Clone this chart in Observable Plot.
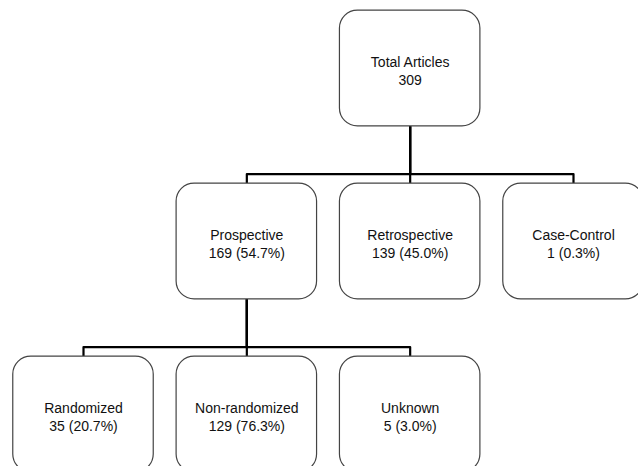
<!DOCTYPE html>
<html>
<head>
<meta charset="utf-8">
<script src="https://cdn.jsdelivr.net/npm/d3@7"></script>
<script src="https://cdn.jsdelivr.net/npm/@observablehq/plot@0.6"></script>
<style>
  html, body { margin: 0; padding: 0; background: #fff; }
  #chart { width: 638px; height: 466px; overflow: hidden; }
</style>
</head>
<body>
<div id="chart"></div>
<script>
// Tree structure
const names    = ["Total Articles", "Prospective", "Retrospective", "Case-Control", "Randomized", "Non-randomized", "Unknown"];
const counts   = [309, 169, 139, 1, 35, 129, 5];
const percents = [null, "54.7%", "45.0%", "0.3%", "20.7%", "76.3%", "3.0%"];
const parents  = [null, 0, 0, 0, 1, 1, 1];
const levels   = [0, 1, 1, 1, 2, 2, 2];
const columns  = [2, 1, 2, 3, 0, 1, 2];

const halfW = 0.43, halfH = 0.335, elbow = 0.61;

const nodes = names.map((name, i) => ({
  name,
  label: name + "\n" + counts[i] + (percents[i] ? " (" + percents[i] + ")" : ""),
  level: levels[i],
  col: columns[i]
}));

const edges = [];
nodes.forEach((n, i) => {
  const p = parents[i];
  if (p === null) return;
  const pn = nodes[p];
  edges.push({id: i, x: pn.col, y: pn.level + halfH});
  edges.push({id: i, x: pn.col, y: pn.level + elbow});
  edges.push({id: i, x: n.col, y: pn.level + elbow});
  edges.push({id: i, x: n.col, y: n.level - halfH});
});

const chart = Plot.plot({
  width: 638,
  height: 466,
  margin: 0,
  style: {fontFamily: "'Liberation Sans', Arial, Helvetica, sans-serif", background: "#fff"},
  x: {domain: [0, 3], range: [83, 573], axis: null},
  y: {domain: [0, 2], range: [68, 414], axis: null},
  marks: [
    Plot.line(edges, {x: "x", y: "y", z: "id", stroke: "#000", strokeWidth: 2.2, curve: "linear"}),
    Plot.rect(nodes, {
      x1: d => d.col - halfW, x2: d => d.col + halfW,
      y1: d => d.level - halfH, y2: d => d.level + halfH,
      fill: "#fff", stroke: "#444", strokeWidth: 1.2, rx: 18
    }),
    Plot.text(nodes, {
      x: "col", y: d => d.level + 0.01, text: "label",
      fontSize: 14, lineHeight: 1.29, fill: "#111", lineAnchor: "middle"
    })
  ]
});
document.getElementById("chart").appendChild(chart);
</script>
</body>
</html>
